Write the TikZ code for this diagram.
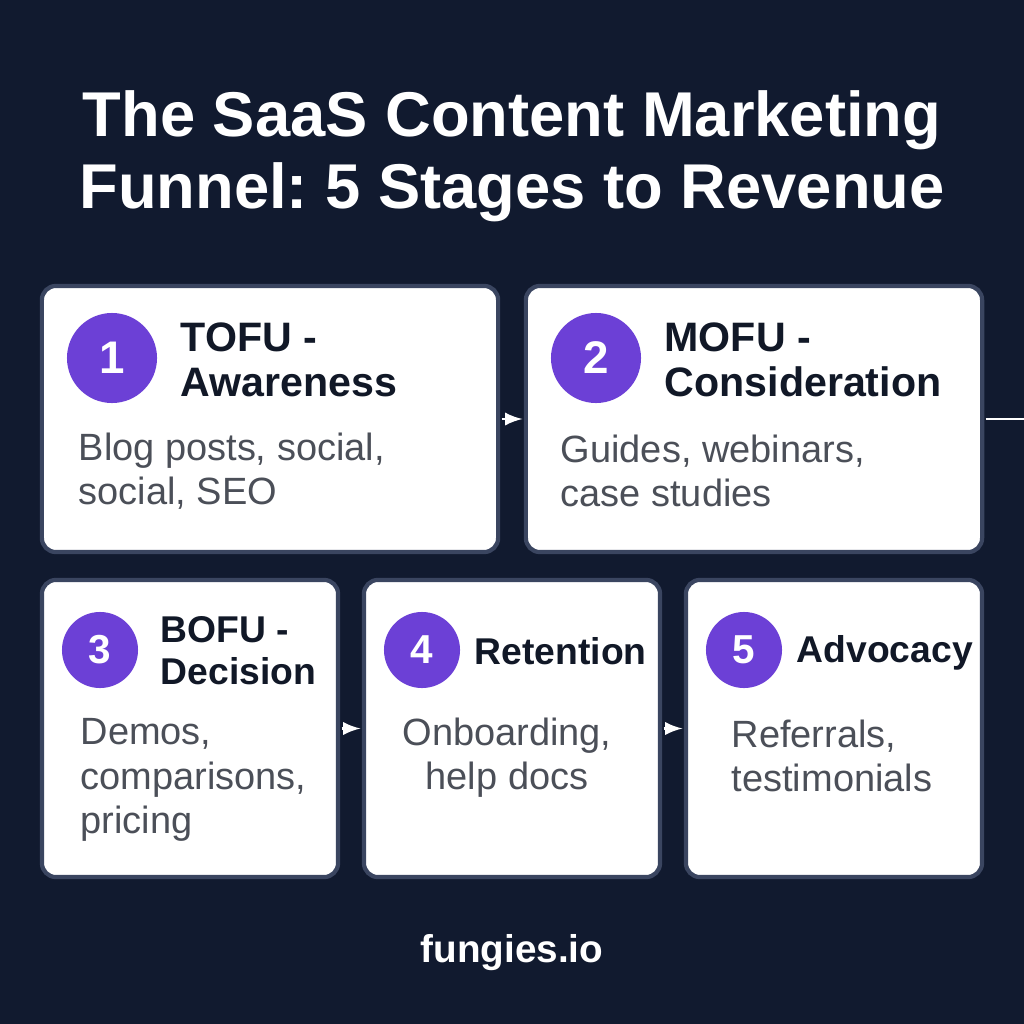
\documentclass[tikz,border=0pt]{standalone}
\usepackage{fontspec}
\setmainfont{Liberation Sans}
\usetikzlibrary{positioning}
\definecolor{bgnavy}{HTML}{111A2F}
\definecolor{boxline}{HTML}{3A4560}
\definecolor{headnavy}{HTML}{111827}
\definecolor{descgray}{HTML}{4B4F58}
\definecolor{stagepurple}{HTML}{6C40D6}
\frenchspacing

\begin{document}
\begin{tikzpicture}[x=0.01cm, y=-0.01cm,
        stagebox/.style={draw=boxline, line width=1.2pt, fill=white, rounded corners=4pt, outer sep=0pt},
        bigbox/.style={stagebox, minimum width=4.56cm, minimum height=2.66cm},
        smallbox/.style={stagebox, minimum width=2.96cm, minimum height=2.97cm},
        stagenum/.style={circle, fill=stagepurple, text=white, inner sep=0pt, font=\bfseries},
        stagehead/.style={anchor=west, inner sep=0pt, align=left, text=headnavy},
        stagetext/.style={inner sep=0pt, text=descgray},
        flowarrow/.style={-latex, white, line width=0.7pt, shorten <=1pt, shorten >=1pt}]
    % Background:
    \fill [bgnavy] (0,0) rectangle (1024,1024);
    \useasboundingbox (0,0) rectangle (1024,1024);

    % Title:
    \node (title) [white, align=center, font=\fontsize{18}{20.5}\selectfont\bfseries] at (512,156)
        {The SaaS Content Marketing\\Funnel: 5 Stages to Revenue};

    % Stage boxes:
    \node (tofu) [bigbox] at (270,419) {};
    \node (mofu) [bigbox] at (754,419) {};
    \node (bofu) [smallbox] at (190,728.5) {};
    \node (retention) [smallbox] at (512,728.5) {};
    \node (advocacy) [smallbox] at (834,728.5) {};

    % Numbers:
    \node (num1) [stagenum, minimum size=0.9cm, font=\fontsize{13}{13}\selectfont\bfseries] at (112,358) {1};
    \node (num2) [stagenum, minimum size=0.9cm, font=\fontsize{13}{13}\selectfont\bfseries] at (596,358) {2};
    \node (num3) [stagenum, minimum size=0.76cm, font=\fontsize{11.5}{11.5}\selectfont\bfseries] at (100,650) {3};
    \node (num4) [stagenum, minimum size=0.76cm, font=\fontsize{11.5}{11.5}\selectfont\bfseries] at (422,650) {4};
    \node (num5) [stagenum, minimum size=0.76cm, font=\fontsize{11.5}{11.5}\selectfont\bfseries] at (744,650) {5};

    % Headings:
    \node (head1) [stagehead, font=\fontsize{11.7}{12.8}\selectfont\bfseries] at (180,360) {TOFU -\\Awareness};
    \node (head2) [stagehead, font=\fontsize{11.7}{12.8}\selectfont\bfseries] at (664,360) {MOFU -\\Consideration};
    \node (head3) [stagehead, font=\fontsize{10.6}{12}\selectfont\bfseries] at (160,651) {BOFU -\\Decision};
    \node (head4) [stagehead, font=\fontsize{10.6}{12}\selectfont\bfseries] at (474,651) {Retention};
    \node (head5) [stagehead, font=\fontsize{10.6}{12}\selectfont\bfseries] at (796,653) {Advocacy};

    % Descriptions:
    \node (text1) [stagetext, anchor=west, align=left, font=\fontsize{10.8}{12.6}\selectfont] at (78,471) {Blog posts, social,\\social, SEO};
    \node (text2) [stagetext, anchor=west, align=left, font=\fontsize{10.8}{12.6}\selectfont] at (560,471) {Guides, webinars,\\case studies};
    \node (text3) [stagetext, anchor=west, align=left, font=\fontsize{10.8}{12.6}\selectfont] at (80,780) {Demos,\\comparisons,\\pricing};
    \node (text4) [stagetext, align=center, font=\fontsize{10.8}{12.6}\selectfont] at (507,758) {Onboarding,\\help docs};
    \node (text5) [stagetext, anchor=west, align=left, font=\fontsize{10.8}{12.6}\selectfont] at (731,756) {Referrals,\\testimonials};

    % Connectors:
    \coordinate (offpage) at (1024,419);
    \draw [flowarrow] (tofu.east) -- (mofu.west);
    \draw [white, line width=0.7pt, shorten <=1pt] (mofu.east) -- (offpage);
    \draw [flowarrow] (bofu.east) -- (retention.west);
    \draw [flowarrow] (retention.east) -- (advocacy.west);

    % Footer:
    \node (footer) [white, font=\fontsize{11}{11}\selectfont\bfseries] at (512,953) {fungies.io};
\end{tikzpicture}
\end{document}
